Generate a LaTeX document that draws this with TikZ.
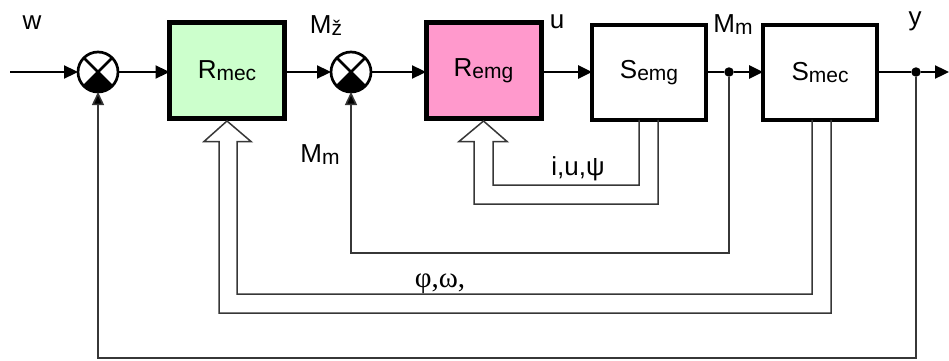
\documentclass[tikz,border=0pt]{standalone}
\usepackage{fontspec}
\setmainfont{Liberation Sans}
\newfontfamily\grkfont{Liberation Serif}
\usetikzlibrary{arrows.meta,calc}
\definecolor{rmecfill}{RGB}{204,255,204}
\definecolor{remgfill}{RGB}{255,153,204}
\definecolor{fbgray}{RGB}{55,55,55}
\newcommand\subtxt[1]{\raisebox{-2pt}{\fontsize{21}{22}\selectfont #1}}
\begin{document}
\begin{tikzpicture}[x=1pt,y=1pt,
  rblk/.style={draw, line width=5pt, minimum width=115pt, minimum height=96pt, inner sep=0pt, outer sep=0pt, font=\fontsize{26}{28}\selectfont},
  sblk/.style={draw, line width=4.3pt, minimum width=113.7pt, minimum height=94.7pt, inner sep=0pt, outer sep=0pt, font=\fontsize{26}{28}\selectfont},
  sumn/.style={circle, draw, line width=2.7pt, minimum size=40pt, inner sep=0pt, outer sep=0pt},
  dotn/.style={circle, fill, minimum size=9.5pt, inner sep=0pt, outer sep=0pt},
  sigline/.style={line width=2.3pt},
  sig/.style={sigline, -{Triangle[length=14pt,width=13pt]}},
  fb/.style={line width=1.5pt, draw=fbgray, line join=miter},
  fba/.style={fb, -{Triangle[length=13pt,width=12pt,fill=black]}},
  lbl/.style={font=\fontsize{26}{28}\selectfont, anchor=base, inner sep=0pt}
]
\useasboundingbox (0,0) rectangle (949,360);

% blocks
\node[rblk, fill=rmecfill] (Rmec) at (227,289.5) {R\subtxt{mec}};
\node[rblk, fill=remgfill] (Remg) at (483.5,289.5) {R\subtxt{emg}};
\node[sblk] (Semg) at (649,287.5) {S\subtxt{emg}};
\node[sblk] (Smec) at (820,287.5) {S\subtxt{mec}};

% summing junctions
\node[sumn] (s1) at (98,288) {};
\node[sumn] (s2) at (351,288) {};
\foreach \s in {s1,s2}{
  \fill (\s.center) -- (\s.-135) arc[start angle=-135,end angle=-45,radius=20pt] -- cycle;
  \draw[line width=2.5pt] (\s.45) -- (\s.-135);
  \draw[line width=2.5pt] (\s.135) -- (\s.-45);
}

% branch points
\node[dotn] (d1) at (729,288) {};
\node[dotn] (d2) at (916,288) {};

% free ends
\coordinate (in) at (10,288);
\coordinate (out) at (949,288);

% main signal path
\draw[sig] (in) -- (s1.west);
\draw[sig] (s1.east) -- (s1.east -| Rmec.west);
\draw[sig] (Rmec.east |- s2.west) -- (s2.west);
\draw[sig] (s2.east) -- (s2.east -| Remg.west);
\draw[sig] (Remg.east |- s1) -- (Semg.west |- s1);
\draw[sigline] (Semg.east |- s1) -- (d1);
\draw[sig] (d1) -- (Smec.west |- s1);
\draw[sigline] (Smec.east |- s1) -- (d2);
\draw[sig] (d2) -- (out);

% simple feedback loops
\coordinate (yb) at (0,2);
\coordinate (mb) at (0,107);
\draw[fba] (d2) -- (d2 |- yb) -| (s1.south);
\draw[fba] (d1) -- (d1 |- mb) -| (s2.south);

% hollow arrow into R_mec
\coordinate (t1) at ($(Rmec.south)+(0,-2.5)$);
\coordinate (pA) at (831,47);
\coordinate (pB) at (219,47);
\coordinate (pC) at (812,66);
\coordinate (pD) at (237,66);
\draw[fb] (Smec.south -| pA) -- (pA) -- (pB) -- ($(t1)+(-8,-20.5)$) -- ($(t1)+(-23,-20.5)$)
  -- (t1) -- ($(t1)+(24,-20.5)$) -- ($(t1)+(10,-20.5)$) -- (pD) -- (pC) -- (Smec.south -| pC);

% hollow arrow into R_emg
\coordinate (t2) at ($(Remg.south)+(0,-2.5)$);
\coordinate (qA) at (658,156);
\coordinate (qB) at (474,156);
\coordinate (qC) at (639,175);
\coordinate (qD) at (493,175);
\draw[fb] (Semg.south -| qA) -- (qA) -- (qB) -- ($(t2)+(-9.5,-20.5)$) -- ($(t2)+(-24.5,-20.5)$)
  -- (t2) -- ($(t2)+(23.5,-20.5)$) -- ($(t2)+(9.5,-20.5)$) -- (qD) -- (qC) -- (Semg.south -| qC);

% labels
\node[lbl] (lw) at (32,331) {w};
\node[lbl] (lMz) at (326,327) {M\subtxt{ž}};
\node[lbl] (lMm1) at (320,198) {M\subtxt{m}};
\node[lbl] (lu) at (557,332) {u};
\node[lbl] (lMm2) at (733,328) {M\subtxt{m}};
\node[lbl] (ly) at (915,335) {y};
\node[lbl] (liu) at (578,185) {i,u,ψ};
\node[lbl, font=\fontsize{29}{30}\selectfont] (lpo) at (440,73) {\grkfont φ,ω,};
\end{tikzpicture}
\end{document}
